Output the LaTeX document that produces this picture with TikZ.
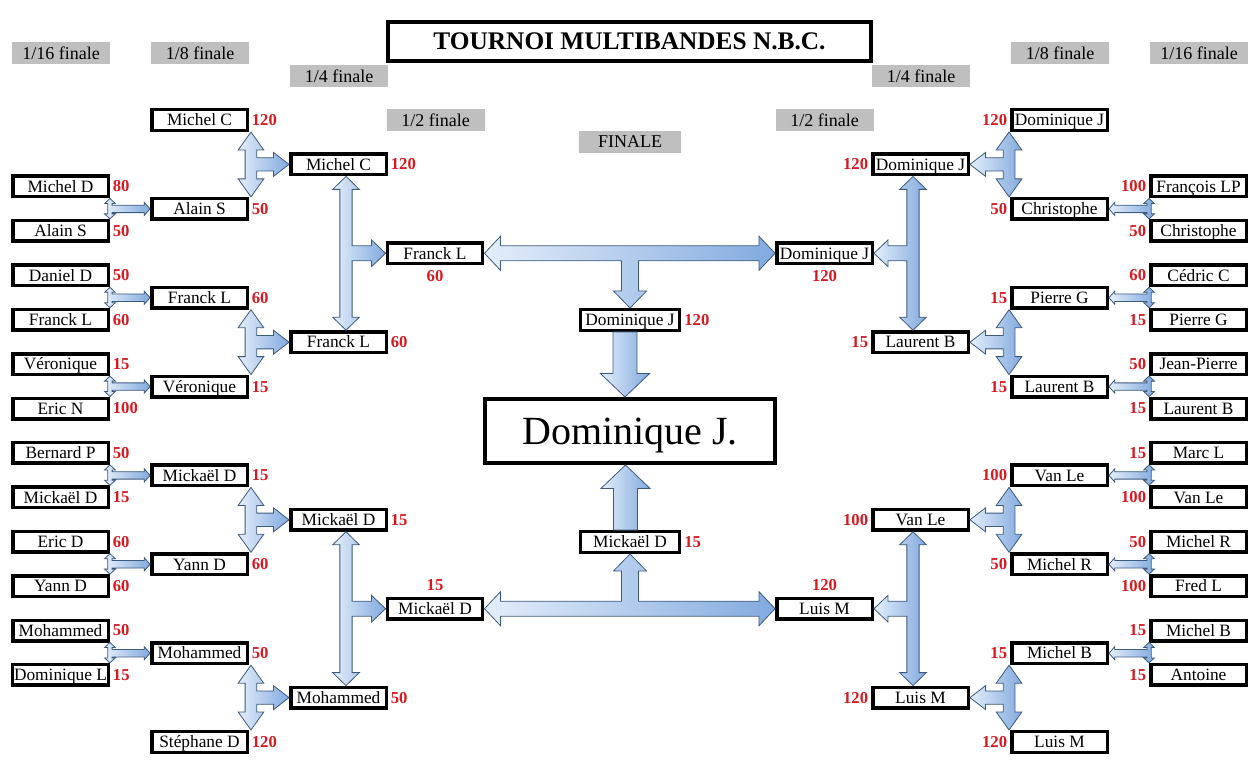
\documentclass[tikz,border=0pt]{standalone}
\usepackage{fontspec}
\setmainfont{Liberation Serif}
\usetikzlibrary{positioning, calc}
\definecolor{scorered}{HTML}{D71920}
\definecolor{headgray}{HTML}{BFBFBF}
\definecolor{arrowlight}{HTML}{E4EEFA}
\definecolor{arrowdark}{HTML}{82AADF}
\definecolor{arrowline}{HTML}{3C5A7C}

\tikzset{
  bar shaft/.store in=\barshaft, bar head/.store in=\barhead, bar tip/.store in=\bartip,
  arm shaft/.store in=\armshaft, arm head/.store in=\armhead, arm tip/.store in=\armtip,
  arrowbody/.style={shade, draw=arrowline, line width=0.6pt,
    left color=arrowlight, right color=arrowdark},
  pairbar/.style={arrowbody, bar shaft=1.6pt, bar head=4pt, bar tip=3.75pt,
    arm shaft=2.8pt, arm head=5pt, arm tip=4.4pt},
  midbar/.style={arrowbody, bar shaft=4.4pt, bar head=9.6pt, bar tip=13.5pt,
    arm shaft=5pt, arm head=9pt, arm tip=11.7pt},
  bigbar/.style={arrowbody, bar shaft=4.6pt, bar head=10pt, bar tip=9.75pt,
    arm shaft=5.6pt, arm head=10pt, arm tip=10.5pt},
  crossbar/.style={arrowbody, bar shaft=5.6pt, bar head=12.75pt, bar tip=12pt,
    arm shaft=6.4pt, arm head=12.4pt, arm tip=12.75pt},
  stembar/.style={arrowbody, arm shaft=9pt, arm head=18.4pt, arm tip=17.6pt}
}

% double arrow between two boxes of a round, with an arm to the next round
% #2 axis of the bar, #3 upper box, #4 lower box, #5 anchor the arm points at
\newcommand{\bracketarrow}[5][]{%
  \path[#1] let \p1=(#2), \p2=(#3.south), \p3=(#4.north), \p4=(#5),
      \n1={sign(\x4-\x1)} in
    (\x1,\y2) -- ({\x1+(\n1)*\barhead},{\y2-\bartip})
    -- ({\x1+(\n1)*\barshaft},{\y2-\bartip}) -- ({\x1+(\n1)*\barshaft},{\y4+\armshaft})
    -- ({\x4-(\n1)*\armtip},{\y4+\armshaft}) -- ({\x4-(\n1)*\armtip},{\y4+\armhead})
    -- (\x4,\y4)
    -- ({\x4-(\n1)*\armtip},{\y4-\armhead}) -- ({\x4-(\n1)*\armtip},{\y4-\armshaft})
    -- ({\x1+(\n1)*\barshaft},{\y4-\armshaft}) -- ({\x1+(\n1)*\barshaft},{\y3+\bartip})
    -- ({\x1+(\n1)*\barhead},{\y3+\bartip}) -- (\x1,\y3)
    -- ({\x1-(\n1)*\barhead},{\y3+\bartip}) -- ({\x1-(\n1)*\barshaft},{\y3+\bartip})
    -- ({\x1-(\n1)*\barshaft},{\y2-\bartip}) -- ({\x1-(\n1)*\barhead},{\y2-\bartip})
    -- cycle;
}

% left-right arrow between the semi-finals with a stem to the finalist
\newcommand{\finalarrow}[4][]{%
  \path[#1] let \p1=(#2.east), \p2=(#3.west), \p3=(#4), \n1={sign(\y3-\y1)} in
    (\x1,\y1) -- ({\x1+\bartip},{\y1-(\n1)*\barhead}) -- ({\x1+\bartip},{\y1-(\n1)*\barshaft})
    -- ({\x2-\bartip},{\y1-(\n1)*\barshaft}) -- ({\x2-\bartip},{\y1-(\n1)*\barhead})
    -- (\x2,\y1)
    -- ({\x2-\bartip},{\y1+(\n1)*\barhead}) -- ({\x2-\bartip},{\y1+(\n1)*\barshaft})
    -- ({\x3+\armshaft},{\y1+(\n1)*\barshaft}) -- ({\x3+\armshaft},{\y3-(\n1)*\armtip})
    -- ({\x3+\armhead},{\y3-(\n1)*\armtip}) -- (\x3,\y3)
    -- ({\x3-\armhead},{\y3-(\n1)*\armtip}) -- ({\x3-\armshaft},{\y3-(\n1)*\armtip})
    -- ({\x3-\armshaft},{\y1+(\n1)*\barshaft}) -- ({\x1+\bartip},{\y1+(\n1)*\barshaft})
    -- ({\x1+\bartip},{\y1+(\n1)*\barhead}) -- cycle;
}

% straight block arrow
\newcommand{\winarrow}[3][]{%
  \path[#1] let \p1=(#2), \p2=(#3), \n1={sign(\y2-\y1)} in
    ({\x1-\armshaft},\y1) -- ({\x1-\armshaft},{\y2-(\n1)*\armtip})
    -- ({\x1-\armhead},{\y2-(\n1)*\armtip}) -- (\x1,\y2)
    -- ({\x1+\armhead},{\y2-(\n1)*\armtip}) -- ({\x1+\armshaft},{\y2-(\n1)*\armtip})
    -- ({\x1+\armshaft},\y1) -- cycle;
}

\begin{document}
\begin{tikzpicture}[
  x=0.75pt, y=-0.75pt,
  player/.style={draw, line width=2.6pt, fill=white, minimum width=71.6pt,
    minimum height=15.4pt, inner sep=1pt, text height=8.6pt, text depth=0pt,
    font=\fontsize{13}{13}\selectfont},
  final/.style={player, minimum width=74.6pt},
  score/.style={inner sep=1pt, text=scorered, font=\fontsize{12.5}{12.5}\selectfont\bfseries},
  stage/.style={fill=headgray, minimum width=73.5pt, minimum height=16.5pt, inner sep=0pt,
    font=\fontsize{13.5}{13.5}\selectfont},
  banner/.style={draw, line width=3pt, minimum width=362pt, minimum height=29.2pt,
    font=\fontsize{19}{19}\selectfont\bfseries},
  winner/.style={draw, line width=3pt, minimum width=217.5pt, minimum height=48pt,
    text height=20pt, text depth=0pt, font=\fontsize{30}{30}\selectfont}
]
  \useasboundingbox (0,0) rectangle (1258,763);

  % title and round headers
  \node[banner] (title) at (629.5,41.5) {TOURNOI MULTIBANDES N.B.C.};
  \node[stage] (h16l) at (61,53) {1/16 finale};
  \node[stage] (h8l) at (200,53) {1/8 finale};
  \node[stage] (h4l) at (339,76) {1/4 finale};
  \node[stage] (h2l) at (435.5,120) {1/2 finale};
  \node[stage, minimum width=76.5pt] (hfin) at (630,142) {FINALE};
  \node[stage] (h2r) at (824.5,120) {1/2 finale};
  \node[stage] (h4r) at (921,76) {1/4 finale};
  \node[stage] (h8r) at (1060,53) {1/8 finale};
  \node[stage] (h16r) at (1199,53) {1/16 finale};

  % left 1/16
  \node[player] (la1) at (60.5,186.5) {Michel D};    \node[score, right=1pt of la1] (la1p) {80};
  \node[player] (la2) at (60.5,230.9) {Alain S};     \node[score, right=1pt of la2] (la2p) {50};
  \node[player] (la3) at (60.5,275.3) {Daniel D};    \node[score, right=1pt of la3] (la3p) {50};
  \node[player] (la4) at (60.5,319.7) {Franck L};    \node[score, right=1pt of la4] (la4p) {60};
  \node[player] (la5) at (60.5,364.1) {Véronique};   \node[score, right=1pt of la5] (la5p) {15};
  \node[player] (la6) at (60.5,408.5) {Eric N};      \node[score, right=1pt of la6] (la6p) {100};
  \node[player] (la7) at (60.5,452.9) {Bernard P};   \node[score, right=1pt of la7] (la7p) {50};
  \node[player] (la8) at (60.5,497.3) {Mickaël D};   \node[score, right=1pt of la8] (la8p) {15};
  \node[player] (la9) at (60.5,541.7) {Eric D};      \node[score, right=1pt of la9] (la9p) {60};
  \node[player] (la10) at (60.5,586.1) {Yann D};     \node[score, right=1pt of la10] (la10p) {60};
  \node[player] (la11) at (60.5,630.5) {Mohammed};   \node[score, right=1pt of la11] (la11p) {50};
  \node[player] (la12) at (60.5,674.9) {Dominique L}; \node[score, right=1pt of la12] (la12p) {15};

  % left 1/8
  \node[player] (lb1) at (199.5,120) {Michel C};     \node[score, right=1pt of lb1] (lb1p) {120};
  \node[player] (lb2) at (199.5,208.9) {Alain S};    \node[score, right=1pt of lb2] (lb2p) {50};
  \node[player] (lb3) at (199.5,297.7) {Franck L};   \node[score, right=1pt of lb3] (lb3p) {60};
  \node[player] (lb4) at (199.5,386.6) {Véronique};  \node[score, right=1pt of lb4] (lb4p) {15};
  \node[player] (lb5) at (199.5,475.4) {Mickaël D};  \node[score, right=1pt of lb5] (lb5p) {15};
  \node[player] (lb6) at (199.5,564.3) {Yann D};     \node[score, right=1pt of lb6] (lb6p) {60};
  \node[player] (lb7) at (199.5,653.2) {Mohammed};   \node[score, right=1pt of lb7] (lb7p) {50};
  \node[player] (lb8) at (199.5,742) {Stéphane D};   \node[score, right=1pt of lb8] (lb8p) {120};

  % left 1/4 and 1/2
  \node[player] (lc1) at (338.5,164.4) {Michel C};   \node[score, right=1pt of lc1] (lc1p) {120};
  \node[player] (lc2) at (338.5,342.2) {Franck L};   \node[score, right=1pt of lc2] (lc2p) {60};
  \node[player] (lc3) at (338.5,519.8) {Mickaël D};  \node[score, right=1pt of lc3] (lc3p) {15};
  \node[player] (lc4) at (338.5,697.6) {Mohammed};   \node[score, right=1pt of lc4] (lc4p) {50};
  \node[player] (ld1) at (435,253.3) {Franck L};     \node[score, below=3pt of ld1] (ld1p) {60};
  \node[player] (ld2) at (435,608.7) {Mickaël D};    \node[score, above=3pt of ld2] (ld2p) {15};

  % final
  \node[final] (c1) at (630,320) {Dominique J};      \node[score, right=1pt of c1] (c1p) {120};
  \node[final] (c2) at (630,542) {Mickaël D};        \node[score, right=1pt of c2] (c2p) {15};
  \node[winner] (winner) at (630,431) {Dominique J.};

  % right 1/16
  \node[player] (ra1) at (1198.5,186.5) {François LP}; \node[score, left=1pt of ra1] (ra1p) {100};
  \node[player] (ra2) at (1198.5,230.9) {Christophe};  \node[score, left=1pt of ra2] (ra2p) {50};
  \node[player] (ra3) at (1198.5,275.3) {Cédric C};    \node[score, left=1pt of ra3] (ra3p) {60};
  \node[player] (ra4) at (1198.5,319.7) {Pierre G};    \node[score, left=1pt of ra4] (ra4p) {15};
  \node[player] (ra5) at (1198.5,364.1) {Jean-Pierre}; \node[score, left=1pt of ra5] (ra5p) {50};
  \node[player] (ra6) at (1198.5,408.5) {Laurent B};   \node[score, left=1pt of ra6] (ra6p) {15};
  \node[player] (ra7) at (1198.5,452.9) {Marc L};      \node[score, left=1pt of ra7] (ra7p) {15};
  \node[player] (ra8) at (1198.5,497.3) {Van Le};      \node[score, left=1pt of ra8] (ra8p) {100};
  \node[player] (ra9) at (1198.5,541.7) {Michel R};    \node[score, left=1pt of ra9] (ra9p) {50};
  \node[player] (ra10) at (1198.5,586.1) {Fred L};     \node[score, left=1pt of ra10] (ra10p) {100};
  \node[player] (ra11) at (1198.5,630.5) {Michel B};   \node[score, left=1pt of ra11] (ra11p) {15};
  \node[player] (ra12) at (1198.5,674.9) {Antoine};    \node[score, left=1pt of ra12] (ra12p) {15};

  % right 1/8
  \node[player] (rb1) at (1059.5,120) {Dominique J};  \node[score, left=1pt of rb1] (rb1p) {120};
  \node[player] (rb2) at (1059.5,208.9) {Christophe}; \node[score, left=1pt of rb2] (rb2p) {50};
  \node[player] (rb3) at (1059.5,297.7) {Pierre G};   \node[score, left=1pt of rb3] (rb3p) {15};
  \node[player] (rb4) at (1059.5,386.6) {Laurent B};  \node[score, left=1pt of rb4] (rb4p) {15};
  \node[player] (rb5) at (1059.5,475.4) {Van Le};     \node[score, left=1pt of rb5] (rb5p) {100};
  \node[player] (rb6) at (1059.5,564.3) {Michel R};   \node[score, left=1pt of rb6] (rb6p) {50};
  \node[player] (rb7) at (1059.5,653.2) {Michel B};   \node[score, left=1pt of rb7] (rb7p) {15};
  \node[player] (rb8) at (1059.5,742) {Luis M};       \node[score, left=1pt of rb8] (rb8p) {120};

  % right 1/4 and 1/2
  \node[player] (rc1) at (920.5,164.4) {Dominique J}; \node[score, left=1pt of rc1] (rc1p) {120};
  \node[player] (rc2) at (920.5,342.2) {Laurent B};   \node[score, left=1pt of rc2] (rc2p) {15};
  \node[player] (rc3) at (920.5,519.8) {Van Le};      \node[score, left=1pt of rc3] (rc3p) {100};
  \node[player] (rc4) at (920.5,697.6) {Luis M};      \node[score, left=1pt of rc4] (rc4p) {120};
  \node[player] (rd1) at (824.5,253.3) {Dominique J}; \node[score, below=3pt of rd1] (rd1p) {120};
  \node[player] (rd2) at (824.5,608.7) {Luis M};      \node[score, above=3pt of rd2] (rd2p) {120};

  % 1/16 -> 1/8
  \bracketarrow[pairbar]{la1.east}{la1}{la2}{lb2.west}
  \bracketarrow[pairbar]{la3.east}{la3}{la4}{lb3.west}
  \bracketarrow[pairbar]{la5.east}{la5}{la6}{lb4.west}
  \bracketarrow[pairbar]{la7.east}{la7}{la8}{lb5.west}
  \bracketarrow[pairbar]{la9.east}{la9}{la10}{lb6.west}
  \bracketarrow[pairbar]{la11.east}{la11}{la12}{lb7.west}
  \bracketarrow[pairbar]{ra1.west}{ra1}{ra2}{rb2.east}
  \bracketarrow[pairbar]{ra3.west}{ra3}{ra4}{rb3.east}
  \bracketarrow[pairbar]{ra5.west}{ra5}{ra6}{rb4.east}
  \bracketarrow[pairbar]{ra7.west}{ra7}{ra8}{rb5.east}
  \bracketarrow[pairbar]{ra9.west}{ra9}{ra10}{rb6.east}
  \bracketarrow[pairbar]{ra11.west}{ra11}{ra12}{rb7.east}

  % 1/8 -> 1/4
  \bracketarrow[midbar]{$(lb1.east)+(2,0)$}{lb1}{lb2}{lc1.west}
  \bracketarrow[midbar]{$(lb3.east)+(2,0)$}{lb3}{lb4}{lc2.west}
  \bracketarrow[midbar]{$(lb5.east)+(2,0)$}{lb5}{lb6}{lc3.west}
  \bracketarrow[midbar]{$(lb7.east)+(2,0)$}{lb7}{lb8}{lc4.west}
  \bracketarrow[midbar]{$(rb1.west)+(-1,0)$}{rb1}{rb2}{rc1.east}
  \bracketarrow[midbar]{$(rb3.west)+(-1,0)$}{rb3}{rb4}{rc2.east}
  \bracketarrow[midbar]{$(rb5.west)+(-1,0)$}{rb5}{rb6}{rc3.east}
  \bracketarrow[midbar]{$(rb7.west)+(-1,0)$}{rb7}{rb8}{rc4.east}

  % 1/4 -> 1/2
  \bracketarrow[bigbar]{$(lc1.south)+(7.5,0)$}{lc1}{lc2}{ld1.west}
  \bracketarrow[bigbar]{$(lc3.south)+(7.5,0)$}{lc3}{lc4}{ld2.west}
  \bracketarrow[bigbar]{$(rc1.south)+(-7.5,0)$}{rc1}{rc2}{rd1.east}
  \bracketarrow[bigbar]{$(rc3.south)+(-7.5,0)$}{rc3}{rc4}{rd2.east}

  % 1/2 -> finale -> winner
  \finalarrow[crossbar]{ld1}{rd1}{c1.north}
  \finalarrow[crossbar]{ld2}{rd2}{c2.south}
  \winarrow[stembar]{$(c1.south)+(-5,0)$}{$(winner.north)+(-5,0)$}
  \winarrow[stembar]{$(c2.north)+(-4.5,0)$}{$(winner.south)+(-4.5,0)$}

\end{tikzpicture}
\end{document}
